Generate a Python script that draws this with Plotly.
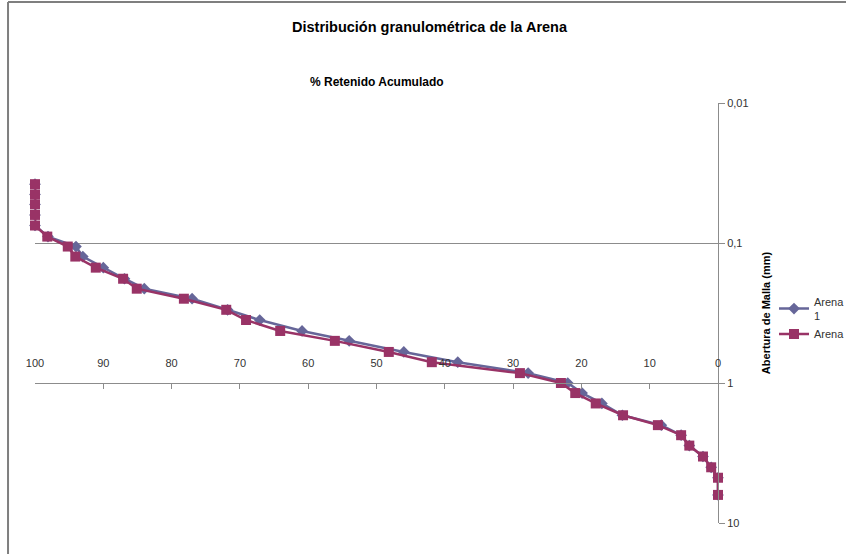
import plotly.graph_objects as go

# Sieve openings (mm)
abertura = [0.038, 0.045, 0.053, 0.063, 0.075, 0.090, 0.106, 0.125, 0.150, 0.180,
            0.212, 0.250, 0.300, 0.355, 0.425, 0.500, 0.600, 0.710, 0.850, 1.00,
            1.18, 1.40, 1.70, 2.00, 2.36, 2.80, 3.35, 4.00, 4.75, 6.30]

# Cumulative % retained
arena_1 = [100, 100, 100, 100, 100, 98.1, 94.0, 93.0, 90.0, 86.9,
           84.0, 77.0, 71.8, 67.1, 60.9, 54.0, 46.0, 38.1, 27.8, 22.0,
           19.9, 17.0, 14.0, 8.3, 5.4, 4.2, 2.2, 1.0, 0.0, 0.0]
arena_2 = [100, 100, 100, 100, 100, 98.2, 95.2, 94.1, 91.1, 87.1,
           85.1, 78.2, 72.0, 69.1, 64.1, 56.1, 48.2, 41.9, 29.0, 23.0,
           20.9, 17.9, 13.9, 8.8, 5.4, 4.2, 2.2, 1.0, 0.0, 0.0]

leyenda = ["Arena<br>1", "Arena"]

x_ticks = [100, 90, 80, 70, 60, 50, 40, 30, 20, 10, 0]
y_ticks = [0.01, 0.1, 1, 10]
y_ticktext = ["0,01", "0,1", "1", "10"]

FONT = "Liberation Sans, Arial, sans-serif"
GRAY = "#8c8c8c"

fig = go.Figure()
fig.add_trace(go.Scatter(
    x=arena_1, y=abertura, name=leyenda[0], mode="lines+markers",
    line=dict(color="#666699", width=2.5),
    marker=dict(symbol="diamond", size=9, color="#666699"),
    cliponaxis=False,
))
fig.add_trace(go.Scatter(
    x=arena_2, y=abertura, name=leyenda[1], mode="lines+markers",
    line=dict(color="#993366", width=2.5),
    marker=dict(symbol="square", size=10, color="#993366"),
    cliponaxis=False,
))

fig.update_layout(
    width=846, height=554,
    margin=dict(l=35, r=128, t=103, b=31, autoexpand=False),
    paper_bgcolor="white", plot_bgcolor="white",
    font=dict(family=FONT, size=11, color="#333333"),
    showlegend=True,
    legend=dict(x=1.082, y=0.56, xanchor="left", yanchor="top",
                font=dict(family=FONT, size=11, color="#333333"),
                bgcolor="rgba(0,0,0,0)", tracegroupgap=0, itemwidth=30),
    xaxis=dict(
        range=[100, 0], anchor="free", position=1/3, side="top",
        tickvals=x_ticks, ticks="inside", ticklen=5, tickcolor=GRAY,
        showline=True, linecolor=GRAY, linewidth=1,
        showgrid=False, zeroline=False, ticklabelstandoff=12,
        automargin=False,
        tickfont=dict(family=FONT, size=11, color="#333333"),
    ),
    yaxis=dict(
        type="log", range=[1, -2], side="right",
        tickvals=y_ticks, ticktext=y_ticktext,
        ticks="outside", ticklen=6, tickcolor=GRAY,
        showline=True, linecolor=GRAY, linewidth=1,
        showgrid=True, gridcolor=GRAY, gridwidth=1, zeroline=False,
        automargin=False,
        tickfont=dict(family=FONT, size=11, color="#333333"),
        title=dict(text="<b>Abertura de Malla (mm)</b>", standoff=14,
                   font=dict(family=FONT, size=11, color="#000000")),
    ),
    shapes=[
        # chart border (left and top edges)
        dict(type="line", xref="paper", yref="paper",
             x0=-0.0395, x1=-0.0395, y0=-0.2, y1=1.2405,
             line=dict(color="#7f7f7f", width=2)),
        dict(type="line", xref="paper", yref="paper",
             x0=-0.0395, x1=1.3, y0=1.2405, y1=1.2405,
             line=dict(color="#7f7f7f", width=2)),
    ],
    annotations=[
        dict(text="<b>Distribución granulométrica de la Arena</b>",
             xref="paper", yref="paper", x=0.578, y=1.181,
             xanchor="center", yanchor="middle", showarrow=False,
             font=dict(family=FONT, size=14.5, color="#000000")),
        dict(text="<b>% Retenido Acumulado</b>",
             xref="paper", yref="paper", x=0.5, y=1.0, yshift=21,
             xanchor="center", yanchor="middle", showarrow=False,
             font=dict(family=FONT, size=12, color="#000000")),
    ],
)

fig.write_html("out.html", config=dict(displayModeBar=False))
